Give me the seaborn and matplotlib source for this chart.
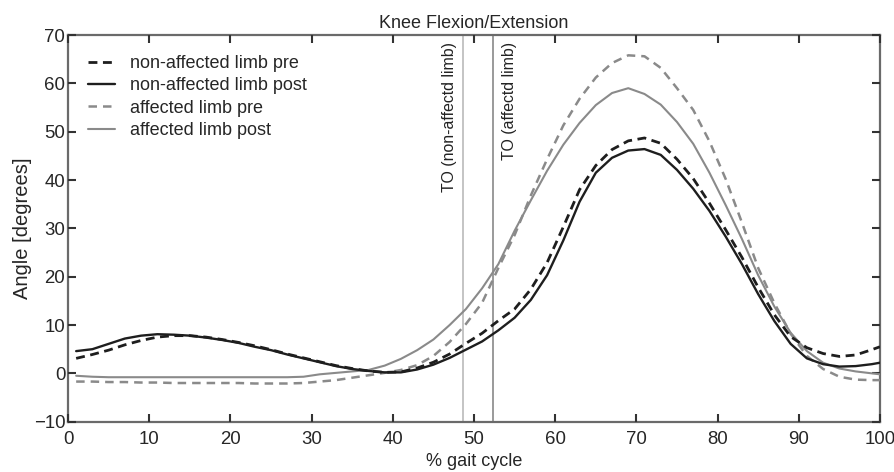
import numpy as np
import pandas as pd
import seaborn as sns
import matplotlib
matplotlib.use("Agg")
import matplotlib.pyplot as plt

# % gait cycle sample points
gait = [1, 3, 5, 7, 9, 11, 13, 15, 17, 19, 21, 23, 25, 27, 29, 31, 33, 35, 37, 39,
        41, 43, 45, 47, 49, 51, 53, 55, 57, 59, 61, 63, 65, 67, 69, 71, 73, 75, 77, 79,
        81, 83, 85, 87, 89, 91, 93, 95, 97, 99, 100]

non_affected_pre = [3.1, 3.9, 4.8, 5.9, 6.8, 7.5, 7.8, 7.8, 7.5, 7.0, 6.4, 5.7, 4.9, 4.0, 3.2,
                    2.4, 1.6, 1.0, 0.5, 0.2, 0.3, 1.1, 2.3, 4.0, 6.2, 8.3, 10.9, 13.3, 17.4, 22.9,
                    30.3, 38.0, 43.0, 46.3, 48.1, 48.7, 47.6, 44.3, 40.3, 35.2, 29.7, 24.0, 17.8,
                    12.1, 7.6, 5.3, 4.1, 3.5, 3.8, 4.9, 5.5]

non_affected_post = [4.6, 5.0, 6.1, 7.2, 7.8, 8.1, 8.0, 7.8, 7.4, 6.9, 6.3, 5.5, 4.8, 3.9, 3.1,
                     2.3, 1.5, 0.9, 0.5, 0.2, 0.2, 0.8, 1.8, 3.2, 4.9, 6.6, 8.9, 11.5, 15.2, 20.3,
                     27.5, 35.5, 41.5, 44.6, 46.1, 46.4, 45.2, 42.1, 38.2, 33.6, 28.3, 22.6, 16.4,
                     10.8, 6.1, 3.1, 1.9, 1.4, 1.5, 1.9, 2.2]

affected_pre = [-1.7, -1.7, -1.8, -1.8, -1.9, -1.9, -2.0, -2.0, -2.0, -2.0, -2.0, -2.1, -2.1, -2.1,
                -2.0, -1.7, -1.4, -0.9, -0.4, 0.1, 0.7, 1.7, 3.6, 6.5, 10.2, 14.6, 21.8, 28.6,
                36.8, 44.3, 51.3, 56.8, 61.2, 64.2, 65.8, 65.6, 63.2, 59.0, 54.5, 48.0, 40.2,
                31.2, 21.8, 14.5, 8.2, 3.6, 0.9, -0.7, -1.3, -1.4, -1.4]

affected_post = [-0.5, -0.7, -0.8, -0.8, -0.8, -0.8, -0.8, -0.8, -0.8, -0.8, -0.8, -0.8, -0.8,
                 -0.8, -0.7, -0.2, 0.1, 0.4, 0.7, 1.6, 3.0, 4.8, 7.0, 10.0, 13.3, 17.6, 22.6,
                 29.5, 35.8, 41.9, 47.3, 51.8, 55.5, 58.0, 59.0, 57.8, 55.6, 52.0, 47.5, 41.5,
                 34.8, 27.8, 20.3, 13.8, 8.4, 4.6, 2.2, 1.0, 0.4, 0.0, -0.2]

series_labels = ["non-affected limb pre", "non-affected limb post",
                 "affected limb pre", "affected limb post"]

toe_off_non_affected = 48.6
toe_off_affected = 52.4
to_labels = ["TO (non-affectd limb)", "TO (affectd limb)"]

x_ticks = [0, 10, 20, 30, 40, 50, 60, 70, 80, 90, 100]
y_ticks = [-10, 0, 10, 20, 30, 40, 50, 60, 70]

sns.set_style("ticks", {"xtick.direction": "in", "ytick.direction": "in",
                        "xtick.top": True, "ytick.right": True})
plt.rcParams['font.family'] = ['Liberation Sans', 'DejaVu Sans']
plt.rcParams['axes.axisbelow'] = False

fig = plt.figure(figsize=(8.94, 4.72), dpi=100)
ax = fig.add_axes([0.0761, 0.1066, 0.9082, 0.8192])

# toe-off vertical markers
ax.axvline(toe_off_non_affected, color="#c4c4c4", lw=1.4, zorder=1)
ax.axvline(toe_off_affected, color="#9a9a9a", lw=1.4, zorder=1)

dark = "#1e1e1e"
grey = "#8a8a8a"
dash_dark = (0, (3.2, 2.0))
dash_grey = (0, (3.4, 2.4))

sns.lineplot(x=gait, y=non_affected_pre, ax=ax, color=dark, lw=2.0,
             linestyle=dash_dark, label=series_labels[0], zorder=4)
sns.lineplot(x=gait, y=non_affected_post, ax=ax, color=dark, lw=1.7,
             label=series_labels[1], zorder=4)
sns.lineplot(x=gait, y=affected_pre, ax=ax, color=grey, lw=1.8,
             linestyle=dash_grey, label=series_labels[2], zorder=3)
sns.lineplot(x=gait, y=affected_post, ax=ax, color=grey, lw=1.5,
             label=series_labels[3], zorder=3)

ax.text(47.0, 68.6, to_labels[0], rotation=90, ha="center", va="top", fontsize=11.4, color="#222222")
ax.text(54.4, 68.6, to_labels[1], rotation=90, ha="center", va="top", fontsize=11.4, color="#222222")

ax.set_xlim(0, 100)
ax.set_ylim(-10, 70)
ax.set_xticks(x_ticks)
ax.set_yticks(y_ticks)
ax.set_yticklabels(["\u221210" if t == -10 else str(t) for t in y_ticks])
ax.xaxis.set_tick_params(which="major", direction="in", length=6, width=1.5, color="#333333",
                         labelsize=13.4, top=True, bottom=True, pad=7)
ax.yaxis.set_tick_params(which="major", direction="in", length=6, width=1.5, color="#333333",
                         labelsize=13.4, left=True, right=True, pad=2)
ax.minorticks_off()
for s in ax.spines.values():
    s.set_visible(True)
    s.set_color("#6a6a6a")
    s.set_linewidth(1.6)

ax.set_title("Knee Flexion/Extension", fontsize=13, pad=5)
ax.set_xlabel("% gait cycle", fontsize=13, labelpad=3)
ax.set_ylabel("Angle [degrees]", fontsize=14.5, labelpad=1)

leg = ax.legend(loc="upper left", frameon=False, fontsize=13, handlelength=1.5,
                handletextpad=0.85, labelspacing=0.3, borderpad=0.4, borderaxespad=0.7)

fig.savefig("out.png", dpi=100)
